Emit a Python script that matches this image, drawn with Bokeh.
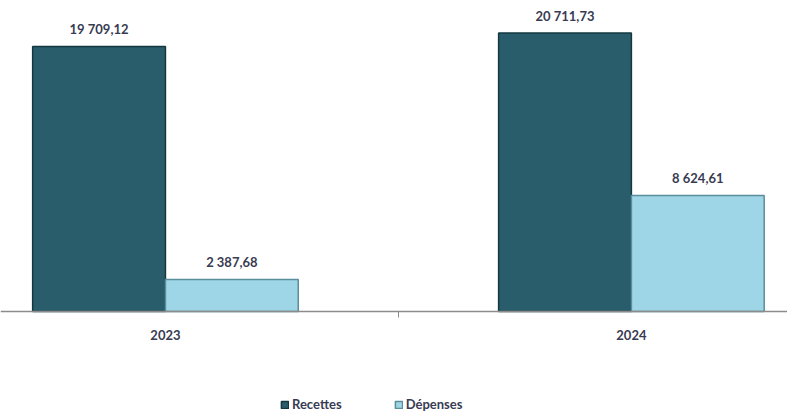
from bokeh.plotting import figure
from bokeh.models import ColumnDataSource, FixedTicker, Range1d, Legend, LegendItem, LabelSet
from bokeh.core.properties import value
from bokeh.embed import file_html
from bokeh.resources import INLINE

years = ["2023", "2024"]
series = ["Recettes", "Dépenses"]
recettes = [19709.12, 20711.73]
depenses = [2387.68, 8624.61]

def fmt(v):
    s = f"{v:,.2f}"
    return s.replace(",", " ").replace(".", ",")

xs = list(range(len(years)))
bw = 0.285
off = bw / 2

src_r = ColumnDataSource(dict(x=[i - off for i in xs], top=recettes, lab=[fmt(v) for v in recettes]))
src_d = ColumnDataSource(dict(x=[i + off for i in xs], top=depenses, lab=[fmt(v) for v in depenses]))

p = figure(width=787, height=413, output_backend="svg", toolbar_location=None,
           x_range=Range1d(-0.354, 1.335), y_range=Range1d(-7584, 23123),
           min_border_left=0, min_border_right=0, min_border_top=0, min_border_bottom=0)
p.outline_line_color = None
p.xgrid.visible = False
p.ygrid.visible = False
p.yaxis.visible = False
p.background_fill_color = "white"

col_r = "#2a5d6b"
col_d = "#9ed6e7"
r1 = p.vbar(x="x", top="top", bottom=0, width=bw, source=src_r, fill_color=col_r,
            line_color="#153840", line_width=1.5)
r2 = p.vbar(x="x", top="top", bottom=0, width=bw, source=src_d, fill_color=col_d,
            line_color="#5a8e9c", line_width=1.5)

font = "Lato"
txt_col = "#383b52"
for src in (src_r, src_d):
    lbl = LabelSet(x="x", y="top", text="lab", source=src, y_offset=9, text_align="center",
                   text_baseline="bottom", text_font=value(font), text_font_style="bold",
                   text_font_size="13px", text_color=txt_col)
    p.add_layout(lbl)

ax = p.xaxis[0]
ax.fixed_location = 0
ax.ticker = FixedTicker(ticks=xs, minor_ticks=[0.5])
ax.major_label_overrides = {i: y for i, y in zip(xs, years)}
ax.major_tick_line_color = None
ax.major_tick_out = 0
ax.major_tick_in = 0
ax.minor_tick_line_color = "#8c8c8c"
ax.minor_tick_out = 6
ax.minor_tick_in = 0
ax.axis_line_color = "#8c8c8c"
ax.axis_line_width = 1.5
ax.major_label_standoff = 13
ax.major_label_text_font = font
ax.major_label_text_font_style = "bold"
ax.major_label_text_font_size = "13px"
ax.major_label_text_color = txt_col

legend = Legend(items=[LegendItem(label=series[0], renderers=[r1]),
                       LegendItem(label=series[1], renderers=[r2])],
                orientation="horizontal", location=(280, 1),
                border_line_color=None, background_fill_alpha=0,
                glyph_width=9, glyph_height=9, label_standoff=3, spacing=52,
                label_height=16,
                label_text_font=font, label_text_font_style="bold",
                label_text_font_size="13px", label_text_color=txt_col,
                margin=0, padding=2)
p.add_layout(legend, "center")

open("out.html", "w").write(file_html(p, INLINE))
